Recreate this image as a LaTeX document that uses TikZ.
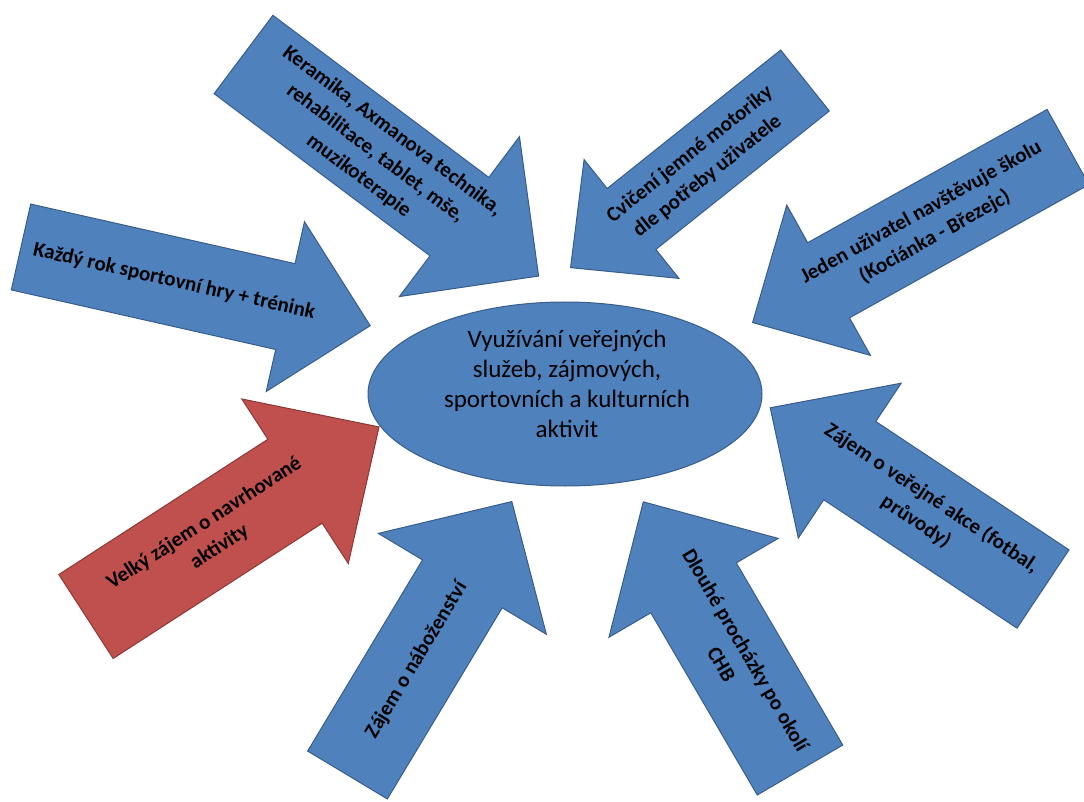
\documentclass[tikz,border=0pt]{standalone}
\usepackage{fontspec}
\setmainfont{Carlito}
\usetikzlibrary{shapes.geometric}

\definecolor{shapeblue}{HTML}{4F81BD}
\definecolor{shapeblueline}{HTML}{385D8A}
\definecolor{shapered}{HTML}{C0504D}
\definecolor{shaperedline}{HTML}{8C3836}

\tikzset{
  bluearrow/.style={fill=shapeblue,draw=shapeblueline,line width=1pt},
  redarrow/.style={fill=shapered,draw=shaperedline,line width=1pt},
  arrowtext/.style={align=center,inner sep=0pt,font=\fontsize{21}{28}\selectfont\bfseries},
  hub/.style={ellipse,fill=shapeblue,draw=shapeblueline,line width=1pt,
    minimum width=394pt,minimum height=184pt},
  hubtext/.style={align=center,inner sep=0pt,font=\fontsize{25}{30}\selectfont}
}

\begin{document}
\begin{tikzpicture}[x=1pt,y=-1pt,line join=miter]
  \useasboundingbox (0,0) rectangle (1084,802);

  % centre
  \node[hub] (hub) at (565,394) {};
  \node[hubtext] (hubtitle) at (567,384) {Využívání veřejných\\služeb, zájmových,\\sportovních a kulturních\\aktivit};

  % top left
  \begin{scope}[shift={(243.5,54.5)},rotate=-36.9]
    \draw[bluearrow] (0,-49) -- (270,-49) -- (270,-100) -- (369,0) -- (270,100) -- (270,49) -- (0,49) -- cycle;
    \node[arrowtext,rotate=-36.9] (keramika) at (165,0) {Keramika, Axmanova technika,\\rehabilitace, tablet, mše,\\muzikoterapie};
  \end{scope}

  % top middle
  \begin{scope}[shift={(805,80.5)},rotate=218.6]
    \draw[bluearrow] (0,-39) -- (222,-39) -- (222,-76) -- (300,0) -- (222,76) -- (222,39) -- (0,39) -- cycle;
    \node[arrowtext,rotate=38.6] (cviceni) at (136,0) {Cvičení jemné motoriky\\dle potřeby uživatele};
  \end{scope}

  % top right
  \begin{scope}[shift={(1068,147)},rotate=209.1]
    \draw[bluearrow] (0,-43) -- (274,-43) -- (274,-86) -- (361,0) -- (274,86) -- (274,43) -- (0,43) -- cycle;
    \node[arrowtext,rotate=29.1] (skola) at (160,0) {Jeden uživatel navštěvuje školu\\(Kociánka - Březejc)};
  \end{scope}

  % left
  \begin{scope}[shift={(21,247)},rotate=-12.7]
    \draw[bluearrow] (0,-44) -- (271,-44) -- (271,-87) -- (358,0) -- (271,87) -- (271,44) -- (0,44) -- cycle;
    \node[arrowtext,rotate=-12.7] (sport) at (157,0) {Každý rok sportovní hry + trénink};
  \end{scope}

  % bottom left (red)
  \begin{scope}[shift={(86,616.5)},rotate=32.9]
    \draw[redarrow] (0,-50) -- (249,-50) -- (249,-98) -- (349,0) -- (249,98) -- (249,50) -- (0,50) -- cycle;
    \node[arrowtext,rotate=32.9] (zajem) at (150,0) {Velký zájem o navrhované\\aktivity};
  \end{scope}

  % bottom middle left
  \begin{scope}[shift={(347.5,775)},rotate=59]
    \draw[bluearrow] (0,-46.5) -- (223,-46.5) -- (223,-98) -- (319,0) -- (223,98) -- (223,46.5) -- (0,46.5) -- cycle;
    \node[arrowtext,rotate=59] (vira) at (134,0) {Zájem o náboženství};
  \end{scope}

  % bottom middle right
  \begin{scope}[shift={(800,770)},rotate=120.3]
    \draw[bluearrow] (0,-49.5) -- (211,-49.5) -- (211,-98) -- (310.6,0) -- (211,98) -- (211,49.5) -- (0,49.5) -- cycle;
    \node[arrowtext,rotate=-59.7] (prochazky) at (131,0) {Dlouhé procházky po okolí\\CHB};
  \end{scope}

  % right
  \begin{scope}[shift={(1043,589)},rotate=146.4]
    \draw[bluearrow] (0,-47) -- (232,-47) -- (232,-93) -- (327.5,0) -- (232,93) -- (232,47) -- (0,47) -- cycle;
    \node[arrowtext,rotate=-33.6] (akce) at (143,0) {Zájem o veřejné akce (fotbal,\\průvody)};
  \end{scope}
\end{tikzpicture}
\end{document}
